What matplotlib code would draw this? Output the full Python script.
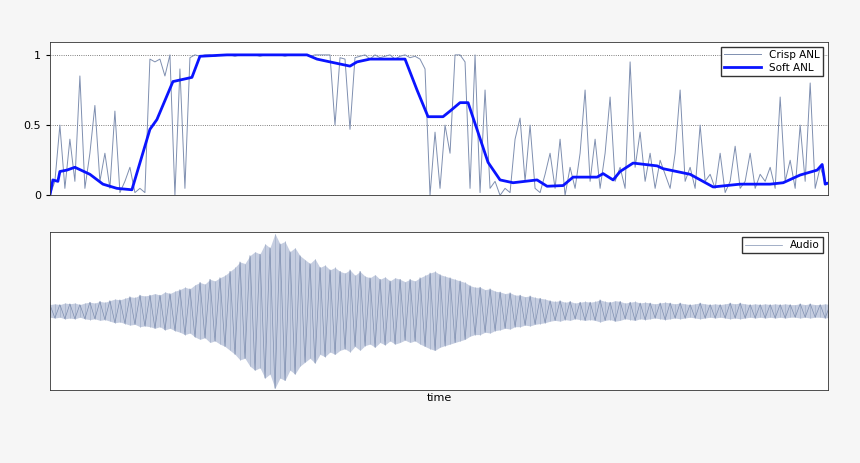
import numpy as np
import matplotlib
matplotlib.use("Agg")
import matplotlib.pyplot as plt

# soft ANL (time, value)
soft_t = [0, 3, 8, 10, 17, 25, 40, 53, 67, 82, 100, 107, 123, 142, 150, 177, 223, 257, 267, 280,
          300, 307, 320, 355, 367, 378, 380, 393, 400, 410, 418, 438, 450, 463, 487, 497, 513,
          523, 547, 553, 563, 570, 583, 607, 613, 640, 663, 690, 720, 733, 750, 767, 772, 775, 777]
soft_v = [0.0, 0.11, 0.10, 0.17, 0.18, 0.20, 0.15, 0.08, 0.05, 0.04, 0.47, 0.54, 0.81, 0.84, 0.99,
          1.0, 1.0, 1.0, 0.97, 0.95, 0.92, 0.95, 0.97, 0.97, 0.75, 0.56, 0.56, 0.56, 0.60, 0.66,
          0.66, 0.235, 0.11, 0.09, 0.11, 0.065, 0.07, 0.13, 0.13, 0.155, 0.11, 0.17, 0.23, 0.21,
          0.19, 0.15, 0.06, 0.08, 0.08, 0.09, 0.145, 0.18, 0.22, 0.08, 0.085]

# crisp ANL, one sample every 5 time units
crisp_v = [0, 0.1, 0.5, 0.05, 0.4, 0.1, 0.85, 0.05, 0.3, 0.64, 0.1, 0.3, 0.05, 0.6, 0.02, 0.1, 0.2, 0.02,
           0.05, 0.02,
           0.97, 0.95, 0.97, 0.85, 1.0, 0.0, 0.9, 0.05, 0.98,
           1.0, 0.99, 1.0, 1.0, 0.99, 1.0, 1.0, 1.0, 0.99, 1.0, 1.0, 1.0, 1.0, 0.99, 1.0, 1.0,
           1.0, 1.0, 0.99, 1.0, 1.0, 1.0, 1.0, 0.99, 1.0, 1.0, 1.0, 1.0,
           0.5, 0.98, 0.97, 0.47, 0.98, 0.99, 1.0, 0.97, 1.0, 0.98, 0.99, 1.0, 0.97, 0.99, 1.0,
           0.98, 0.99, 0.97, 0.9,
           0.0, 0.45, 0.05, 0.5, 0.3, 1.0, 1.0, 0.95, 0.05, 1.0, 0.02, 0.75, 0.05,
           0.1, 0.0, 0.05, 0.02, 0.4, 0.55, 0.1, 0.5, 0.05, 0.02, 0.15, 0.3, 0.05, 0.4, 0.0, 0.2,
           0.05, 0.3, 0.75, 0.1, 0.4, 0.05, 0.3, 0.7, 0.1, 0.2, 0.05, 0.95, 0.2, 0.45, 0.1, 0.3,
           0.05, 0.25, 0.15, 0.05, 0.3, 0.75, 0.1, 0.2, 0.05, 0.5, 0.1, 0.15, 0.05, 0.3, 0.02,
           0.1, 0.35, 0.05, 0.1, 0.3, 0.05, 0.15, 0.1, 0.2, 0.05, 0.7, 0.1, 0.25, 0.05, 0.5,
           0.1, 0.8, 0.05, 0.2, 0.1]

# audio envelope, one value every 5 time units
audio_env = [0.08, 0.09, 0.08, 0.1, 0.09, 0.1, 0.08, 0.1, 0.11, 0.1, 0.12, 0.11,
             0.13, 0.15, 0.14, 0.16, 0.18, 0.17, 0.2, 0.19, 0.2, 0.22, 0.2, 0.24, 0.22, 0.25,
             0.27, 0.3, 0.28, 0.33, 0.36, 0.34, 0.4, 0.38, 0.42, 0.45,
             0.5, 0.55, 0.62, 0.6, 0.7, 0.75, 0.72, 0.85, 0.8, 0.98,
             0.85, 0.88, 0.75, 0.8, 0.7, 0.65, 0.6, 0.66, 0.55, 0.58,
             0.52, 0.55, 0.5, 0.48, 0.52, 0.45, 0.5, 0.44, 0.42, 0.46, 0.4, 0.43, 0.38, 0.42,
             0.4, 0.37, 0.4, 0.38,
             0.42, 0.45, 0.48, 0.5, 0.46, 0.44, 0.42, 0.4, 0.38, 0.36,
             0.32, 0.3, 0.3, 0.27, 0.28, 0.25, 0.24, 0.22, 0.23, 0.2, 0.2, 0.18, 0.19, 0.17,
             0.16, 0.15,
             0.13, 0.12, 0.13, 0.11, 0.12, 0.1, 0.11, 0.12, 0.11, 0.12, 0.14, 0.12, 0.11, 0.13,
             0.12, 0.1, 0.11, 0.12, 0.1, 0.11, 0.1, 0.09, 0.1, 0.11, 0.1, 0.09, 0.1, 0.09,
             0.08, 0.09, 0.1, 0.09, 0.08, 0.09, 0.08, 0.09, 0.1, 0.09, 0.1, 0.09, 0.08, 0.09,
             0.08, 0.09, 0.08, 0.09, 0.08, 0.09, 0.08, 0.08, 0.09, 0.08, 0.09, 0.08, 0.08, 0.09,
             0.08, 0.08]

fig = plt.figure(figsize=(8.6, 4.63), dpi=100, facecolor="#f6f6f6")
ax1 = fig.add_axes([0.058, 0.578, 0.905, 0.332])
ax2 = fig.add_axes([0.058, 0.158, 0.905, 0.341])
grey = "#7f8fb0"

crisp_t = np.arange(len(crisp_v)) * 5
ax1.plot(crisp_t, crisp_v, color=grey, lw=0.7, label="Crisp ANL")
ax1.plot(soft_t, soft_v, color="#0a14ff", lw=2, label="Soft ANL")
ax1.set_xlim(0, 778)
ax1.set_ylim(0, 1.094)
ax1.set_yticks([0, 0.5, 1])
ax1.set_yticklabels(["0", "0.5", "1"])
ax1.set_xticks([])
ax1.grid(axis="y", color="#555555", ls=":", lw=0.6)
ax1.tick_params(labelsize=8, length=3)
ax1.legend(loc="upper right", fontsize=7.5, fancybox=False, edgecolor="#333333",
           framealpha=1, borderpad=0.3, handlelength=3.5, labelspacing=0.3)

audio_t = np.arange(len(audio_env)) * 5
env = np.array(audio_env)
sig = env * np.where(np.arange(len(env)) % 2 == 0, 1, -1)
ax2.fill_between(audio_t, -env, env, color="#c5cde0", lw=0)
ax2.vlines(audio_t, -env, env, color="#a8b4cc", lw=0.6)
ax2.plot(audio_t, sig, color=grey, lw=0.5, label="Audio")
ax2.set_xlim(0, 778)
ax2.set_ylim(-1, 1.0)
ax2.set_xticks([])
ax2.set_yticks([])
ax2.set_xlabel("time", fontsize=8, labelpad=2)
ax2.legend(loc="upper right", fontsize=7.5, fancybox=False, edgecolor="#333333",
           framealpha=1, borderpad=0.3, handlelength=3.5)

for ax in (ax1, ax2):
    for s in ax.spines.values():
        s.set_linewidth(0.6)
        s.set_color("#333333")

fig.savefig("out.png", dpi=100, facecolor=fig.get_facecolor())
